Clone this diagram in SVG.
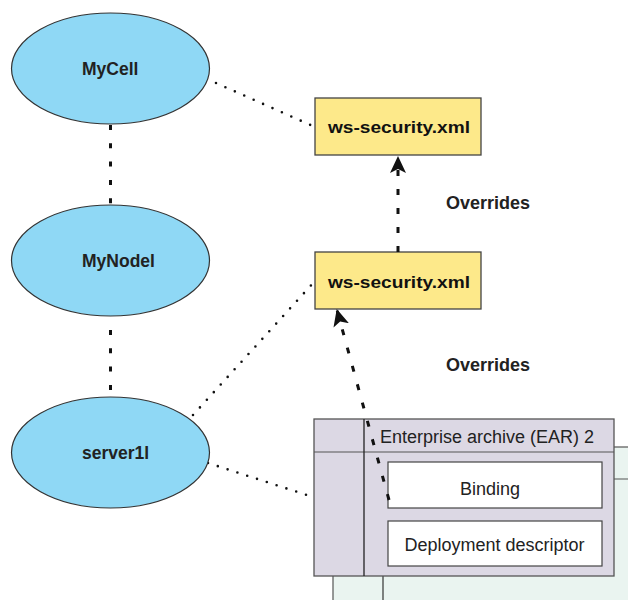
<svg xmlns="http://www.w3.org/2000/svg" width="628" height="600" viewBox="0 0 628 600">
<defs>
<style>
.ell{fill:#8fd8f5;stroke:#333;stroke-width:1.2}
.ell-t{font-family:"Liberation Sans",Arial,sans-serif;font-weight:bold;font-size:17.5px;fill:#222}
.xml{fill:#fde98a;stroke:#444;stroke-width:1.3}
.xml-t{font-family:"Liberation Sans",Arial,sans-serif;font-weight:bold;font-size:17px;fill:#111}
.lbl{font-family:"Liberation Sans",Arial,sans-serif;font-weight:bold;font-size:18px;fill:#222}
.reg{font-family:"Liberation Sans",Arial,sans-serif;font-size:18px;fill:#222}
.dot{fill:none;stroke:#111;stroke-width:2.6;stroke-linecap:round;stroke-dasharray:0 10.3}
.dash{fill:none;stroke:#111;stroke-width:3;stroke-dasharray:5 13.3}
.arr{fill:none;stroke:#111;stroke-width:3;stroke-dasharray:6 13}
</style>
<marker id="ah" markerWidth="17" markerHeight="16" refX="16" refY="8" orient="auto" markerUnits="userSpaceOnUse">
<path d="M0,0 L17,8 L0,16 L4,8 Z" fill="#111"/>
</marker>
</defs>
<rect width="628" height="600" fill="#fff"/>

<g id="connectors">
<path class="dot" d="M216,83 L315,127"/>
<path class="dot" d="M193,415 L315,281"/>
<path class="dot" d="M208,463 L313,497"/>
<path class="dash" d="M110.5,125 L110.5,205"/>
<path class="dash" d="M110.5,330 L110.5,392"/>
</g>

<g id="MyCell">
<ellipse class="ell" cx="110.5" cy="68.5" rx="99" ry="55.5"/>
<text class="ell-t" x="82" y="74.5">MyCell</text>
</g>
<g id="MyNodel">
<ellipse class="ell" cx="110.5" cy="260.5" rx="99" ry="55.5"/>
<text class="ell-t" x="82" y="267">MyNodel</text>
</g>
<g id="server1l">
<ellipse class="ell" cx="110.5" cy="452.5" rx="99" ry="55.5"/>
<text class="ell-t" x="82" y="459">server1l</text>
</g>

<g id="ws-security-cell">
<rect class="xml" x="315" y="98" width="166" height="57"/>
<text class="xml-t" x="328" y="133" textLength="142" lengthAdjust="spacingAndGlyphs">ws-security.xml</text>
</g>
<g id="ws-security-node">
<rect class="xml" x="315" y="252" width="166" height="57"/>
<text class="xml-t" x="328" y="288" textLength="142" lengthAdjust="spacingAndGlyphs">ws-security.xml</text>
</g>

<g id="ear-back">
<rect x="333" y="447" width="320" height="200" fill="#eaf4f0" stroke="#555" stroke-width="1.2"/>
<line x1="383" y1="447" x2="383" y2="600" stroke="#333" stroke-width="1.2"/>
<line x1="333" y1="479" x2="628" y2="479" stroke="#555" stroke-width="1.2"/>
</g>

<g id="ear">
<rect x="314" y="419" width="300" height="157" fill="#dcd8e4" stroke="#555" stroke-width="1.3"/>
<line x1="314" y1="452" x2="614" y2="452" stroke="#555" stroke-width="1.2"/>
<line x1="364" y1="419" x2="364" y2="576" stroke="#222" stroke-width="1.3"/>
<text class="reg" x="380" y="443">Enterprise archive (EAR) 2</text>
</g>
<g id="binding">
<rect x="388" y="462" width="214" height="46" fill="#fff" stroke="#444" stroke-width="1.2"/>
<text class="reg" x="490" y="495" text-anchor="middle">Binding</text>
</g>
<g id="deployment-descriptor">
<rect x="388" y="521" width="214" height="45" fill="#fff" stroke="#444" stroke-width="1.2"/>
<text class="reg" x="494.5" y="551" text-anchor="middle">Deployment descriptor</text>
</g>

<g id="override-arrows">
<path class="arr" d="M398,252 L398,157" marker-end="url(#ah)"/>
<path class="arr" d="M389,500 L337,310" marker-end="url(#ah)"/>
</g>

<g id="labels">
<text class="lbl" x="446" y="209">Overrides</text>
<text class="lbl" x="446" y="371">Overrides</text>
</g>
</svg>
